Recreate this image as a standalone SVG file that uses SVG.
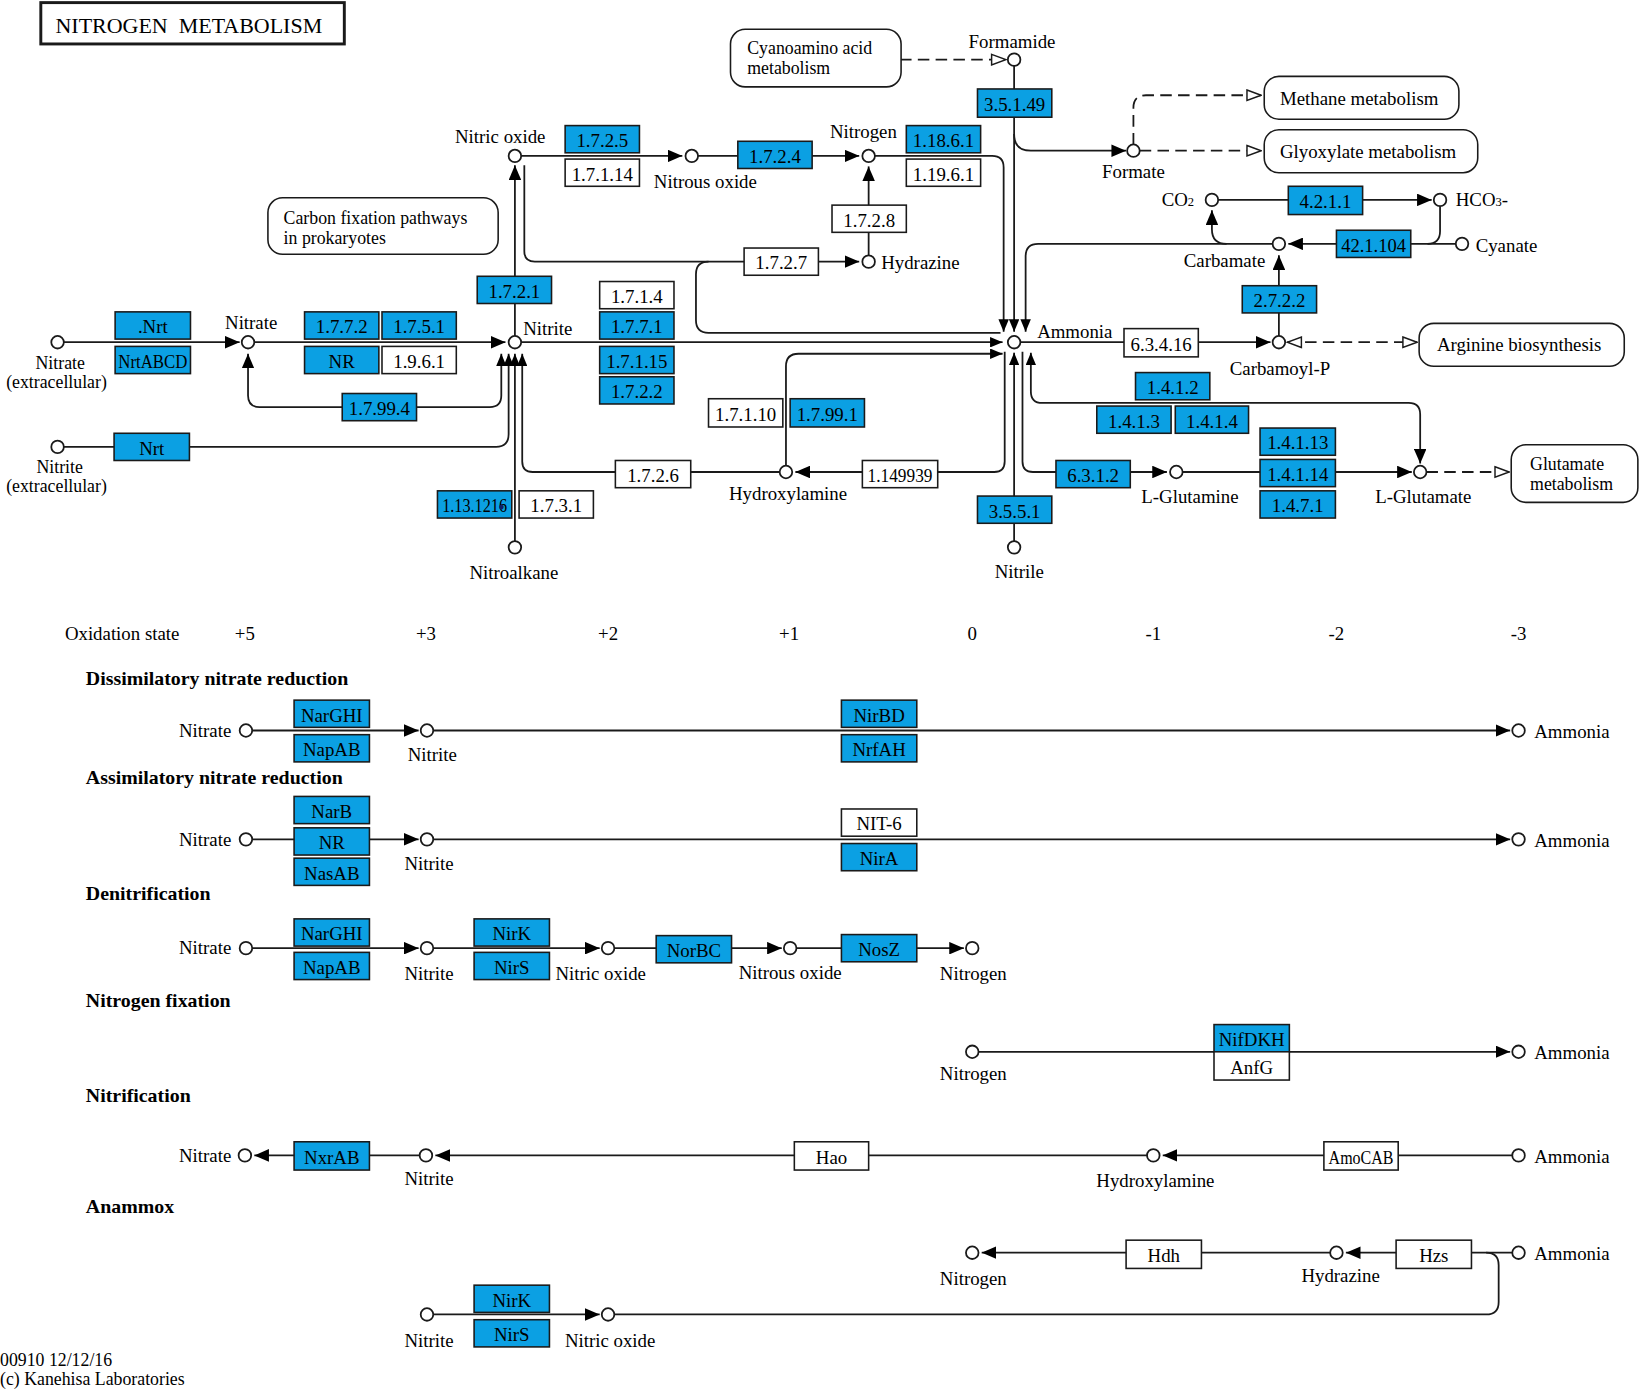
<svg xmlns="http://www.w3.org/2000/svg" width="1641" height="1391" viewBox="0 0 1641 1391">
<defs>
<style>
.ln{fill:none;stroke:#1a1a1a;stroke-width:1.7}
.ds{fill:none;stroke:#1a1a1a;stroke-width:1.7;stroke-dasharray:11 6}
.c{fill:#fff;stroke:#1a1a1a;stroke-width:1.7}
.b{fill:#0ba0e3;stroke:#1a1a1a;stroke-width:1.5}
.w{fill:#fff;stroke:#1a1a1a;stroke-width:1.5}
.m{fill:#fff;stroke:#1a1a1a;stroke-width:1.5}
text{font-family:"Liberation Serif","Times New Roman",serif;font-size:18px;fill:#000}
.t{text-anchor:middle}
.e{text-anchor:end}
.h{font-weight:bold;font-size:19px}
.two{font-size:17px}
</style>
<marker id="a" markerUnits="userSpaceOnUse" markerWidth="14" markerHeight="12" viewBox="0 0 14 12" refX="14" refY="6" orient="auto-start-reverse"><path d="M0,0L14,6L0,12z" fill="#000" stroke="none"/></marker>
<marker id="s" markerUnits="userSpaceOnUse" markerWidth="12" markerHeight="10" viewBox="0 0 12 10" refX="12" refY="5" orient="auto-start-reverse"><path d="M0,0L12,5L0,10z" fill="#000" stroke="none"/></marker>
<marker id="o" markerUnits="userSpaceOnUse" markerWidth="16" markerHeight="13" viewBox="0 0 16 13" refX="15" refY="6.5" orient="auto-start-reverse"><path d="M1.5,1.5L15,6.5L1.5,11.5z" fill="#fff" stroke="#1a1a1a" stroke-width="1.4" stroke-dasharray="none"/></marker>
</defs>
<rect x="0" y="0" width="1641" height="1391" fill="#fff"/>
<g transform="scale(1.046556)">
<g id="title"><rect x="39" y="2.5" width="290" height="39.5" fill="#fff" stroke="#1a1a1a" stroke-width="2.8"/><text x="53" y="32" style="font-size:21px;white-space:pre" xml:space="preserve">NITROGEN  METABOLISM</text></g>

<g id="connectors">
<path class="ln" d="M61,327H229" marker-end="url(#a)"/>
<path class="ln" d="M243,327H483" marker-end="url(#a)"/>
<path class="ln" d="M237,338V378Q237,389 248,389H468Q479,389 479,378V338" marker-start="url(#a)" marker-end="url(#s)"/>
<path class="ln" d="M61,427H474Q486,427 486,415V338" marker-end="url(#s)"/>
<path class="ln" d="M492,517V338" marker-end="url(#s)"/>
<path class="ln" d="M745,451H509Q499,451 499,441V338" marker-end="url(#s)"/>
<path class="ln" d="M492,321V158" marker-end="url(#a)"/>
<path class="ln" d="M498,149H652" marker-end="url(#a)"/>
<path class="ln" d="M667,149H821" marker-end="url(#a)"/>
<path class="ln" d="M836,149H948Q959,149 959,160V317" marker-end="url(#s)"/>
<path class="ln" d="M501,158V240Q501,250 511,250H821" marker-end="url(#a)"/>
<path class="ln" d="M956,318H677Q665,318 665,306V262Q665,250 677,250"/>
<path class="ln" d="M830,244V159" marker-end="url(#a)"/>
<path class="ln" d="M498,327H958" marker-end="url(#s)"/>
<path class="ln" d="M751,445V350Q751,338 763,338H958" marker-end="url(#s)"/>
<path class="ln" d="M960,336V441Q960,451 950,451H760" marker-end="url(#a)"/>
<path class="ln" d="M969,63V317" marker-end="url(#s)"/>
<path class="ln" d="M969,128Q969,144 985,144H1076" marker-end="url(#a)"/>
<path class="ds" d="M860,57H961" marker-end="url(#o)"/>
<path class="ds" d="M1089,144H1205" marker-end="url(#o)"/>
<path class="ds" d="M1083,138V103Q1083,91 1095,91H1205" marker-end="url(#o)"/>
<path class="ln" d="M1216,233H992Q980,233 980,245V317" marker-end="url(#s)"/>
<path class="ln" d="M1172,233Q1158,233 1158,219V201" marker-end="url(#a)"/>
<path class="ln" d="M1164,191H1368" marker-end="url(#a)"/>
<path class="ln" d="M1376,197V221Q1376,233 1364,233"/>
<path class="ln" d="M1391,233H1231" marker-end="url(#a)"/>
<path class="ln" d="M1222,321V244" marker-end="url(#a)"/>
<path class="ln" d="M975,327H1214" marker-end="url(#a)"/>
<path class="ds" d="M1230,327H1354" marker-start="url(#o)" marker-end="url(#o)"/>
<path class="ln" d="M969,517V337" marker-end="url(#s)"/>
<path class="ln" d="M985,337V374Q985,385 996,385H1346Q1357,385 1357,396V443" marker-start="url(#s)" marker-end="url(#a)"/>
<path class="ln" d="M977,336V441Q977,451 987,451H1115" marker-end="url(#a)"/>
<path class="ln" d="M1130,451H1349" marker-end="url(#a)"/>
<path class="ds" d="M1363,451H1442" marker-end="url(#o)"/>

<path class="ln" d="M241,698H400" marker-end="url(#a)"/>
<path class="ln" d="M414,698H1443" marker-end="url(#a)"/>
<path class="ln" d="M241,802H400" marker-end="url(#a)"/>
<path class="ln" d="M414,802H1443" marker-end="url(#a)"/>
<path class="ln" d="M241,906H400" marker-end="url(#a)"/>
<path class="ln" d="M414,906H573" marker-end="url(#a)"/>
<path class="ln" d="M587,906H747" marker-end="url(#a)"/>
<path class="ln" d="M761,906H921" marker-end="url(#a)"/>
<path class="ln" d="M935,1005H1443" marker-end="url(#a)"/>
<path class="ln" d="M1445,1104H1111" marker-end="url(#a)"/>
<path class="ln" d="M1096,1104H416" marker-end="url(#a)"/>
<path class="ln" d="M401,1104H243" marker-end="url(#a)"/>
<path class="ln" d="M1445,1197H1286" marker-end="url(#a)"/>
<path class="ln" d="M1271,1197H938" marker-end="url(#a)"/>
<path class="ln" d="M414,1256H573" marker-end="url(#a)"/>
<path class="ln" d="M587,1256H1420Q1432,1256 1432,1244V1209Q1432,1197 1420,1197"/>
</g>

<g id="maps">
<g id="map_cyano"><rect class="m" x="698" y="28" width="163" height="55" rx="14"/><text class="two" x="714" y="52">Cyanoamino acid</text><text class="two" x="714" y="71">metabolism</text></g>
<g id="map_carbon"><rect class="m" x="256" y="189" width="220" height="54" rx="14"/><text class="two" x="271" y="214">Carbon fixation pathways</text><text class="two" x="271" y="233">in prokaryotes</text></g>
<g id="map_methane"><rect class="m" x="1208" y="73" width="186" height="41" rx="14"/><text x="1223" y="100">Methane metabolism</text></g>
<g id="map_glyox"><rect class="m" x="1208" y="124" width="204" height="41" rx="14"/><text x="1223" y="151">Glyoxylate metabolism</text></g>
<g id="map_arg"><rect class="m" x="1356" y="309" width="196" height="41" rx="14"/><text x="1373" y="335">Arginine biosynthesis</text></g>
<g id="map_glu"><rect class="m" x="1444" y="425" width="121" height="55" rx="14"/><text class="two" x="1462" y="449">Glutamate</text><text class="two" x="1462" y="468">metabolism</text></g>
</g>

<g id="enzymes">
<g id="e1"><rect class="b" x="110" y="298" width="72" height="26"/><text class="t" x="146" y="318.5">.Nrt</text></g>
<g id="e2"><rect class="b" x="110" y="331" width="72" height="26"/><text class="t" x="146" y="351.5" textLength="66" lengthAdjust="spacingAndGlyphs">NrtABCD</text></g>
<g id="e3"><rect class="b" x="291" y="298" width="71" height="26"/><text class="t" x="326.5" y="318.5">1.7.7.2</text></g>
<g id="e4"><rect class="b" x="365" y="298" width="71" height="26"/><text class="t" x="400.5" y="318.5">1.7.5.1</text></g>
<g id="e5"><rect class="b" x="291" y="331" width="71" height="26"/><text class="t" x="326.5" y="351.5">NR</text></g>
<g id="e6"><rect class="w" x="365" y="331" width="71" height="26"/><text class="t" x="400.5" y="351.5">1.9.6.1</text></g>
<g id="e7"><rect class="b" x="327" y="376" width="71" height="26"/><text class="t" x="362.5" y="396.5">1.7.99.4</text></g>
<g id="e8"><rect class="b" x="109" y="414" width="72" height="26"/><text class="t" x="145" y="434.5">Nrt</text></g>
<g id="e9"><rect class="b" x="456" y="264" width="71" height="26"/><text class="t" x="491.5" y="284.5">1.7.2.1</text></g>
<g id="e10"><rect class="b" x="418" y="469" width="71" height="26"/><text class="t" x="453.5" y="489.5" textLength="62" lengthAdjust="spacingAndGlyphs">1.13.1216</text><circle cx="479" cy="484.5" r="2.3" fill="#10206a"/></g>
<g id="e11"><rect class="w" x="496" y="469" width="71" height="26"/><text class="t" x="531.5" y="489.5">1.7.3.1</text></g>
<g id="e12"><rect class="w" x="573" y="269" width="71" height="26"/><text class="t" x="608.5" y="289.5">1.7.1.4</text></g>
<g id="e13"><rect class="b" x="573" y="298" width="71" height="26"/><text class="t" x="608.5" y="318.5">1.7.7.1</text></g>
<g id="e14"><rect class="b" x="573" y="331" width="71" height="26"/><text class="t" x="608.5" y="351.5">1.7.1.15</text></g>
<g id="e15"><rect class="b" x="573" y="360" width="71" height="26"/><text class="t" x="608.5" y="380.5">1.7.2.2</text></g>
<g id="e16"><rect class="b" x="540" y="120" width="71" height="26"/><text class="t" x="575.5" y="140.5">1.7.2.5</text></g>
<g id="e17"><rect class="w" x="540" y="152" width="71" height="26"/><text class="t" x="575.5" y="172.5">1.7.1.14</text></g>
<g id="e18"><rect class="b" x="705" y="135" width="71" height="26"/><text class="t" x="740.5" y="155.5">1.7.2.4</text></g>
<g id="e19"><rect class="b" x="866" y="120" width="71" height="26"/><text class="t" x="901.5" y="140.5">1.18.6.1</text></g>
<g id="e20"><rect class="w" x="866" y="152" width="71" height="26"/><text class="t" x="901.5" y="172.5">1.19.6.1</text></g>
<g id="e21"><rect class="w" x="795" y="196" width="71" height="26"/><text class="t" x="830.5" y="216.5">1.7.2.8</text></g>
<g id="e22"><rect class="w" x="711" y="237" width="71" height="26"/><text class="t" x="746.5" y="257.5">1.7.2.7</text></g>
<g id="e23"><rect class="w" x="677" y="381" width="71" height="27"/><text class="t" x="712.5" y="402">1.7.1.10</text></g>
<g id="e24"><rect class="b" x="755" y="381" width="71" height="27"/><text class="t" x="790.5" y="402">1.7.99.1</text></g>
<g id="e25"><rect class="w" x="588" y="440" width="72" height="26"/><text class="t" x="624" y="460.5">1.7.2.6</text></g>
<g id="e26"><rect class="w" x="824" y="440" width="72" height="26"/><text class="t" x="860" y="460.5" textLength="62" lengthAdjust="spacingAndGlyphs">1.149939</text></g>
<g id="e27"><rect class="b" x="934" y="85" width="71" height="27"/><text class="t" x="969.5" y="106">3.5.1.49</text></g>
<g id="e28"><rect class="b" x="934" y="474" width="71" height="26"/><text class="t" x="969.5" y="494.5">3.5.5.1</text></g>
<g id="e29"><rect class="w" x="1074" y="314" width="71" height="27"/><text class="t" x="1109.5" y="335">6.3.4.16</text></g>
<g id="e30"><rect class="b" x="1187" y="273" width="71" height="26"/><text class="t" x="1222.5" y="293.5">2.7.2.2</text></g>
<g id="e31"><rect class="b" x="1277" y="220" width="71" height="26"/><text class="t" x="1312.5" y="240.5" textLength="62" lengthAdjust="spacingAndGlyphs">42.1.104</text></g>
<g id="e32"><rect class="b" x="1231" y="178" width="71" height="27"/><text class="t" x="1266.5" y="199">4.2.1.1</text></g>
<g id="e33"><rect class="b" x="1085" y="356" width="71" height="26"/><text class="t" x="1120.5" y="376.5">1.4.1.2</text></g>
<g id="e34"><rect class="b" x="1048" y="388" width="71" height="26"/><text class="t" x="1083.5" y="408.5">1.4.1.3</text></g>
<g id="e35"><rect class="b" x="1123" y="388" width="70" height="26"/><text class="t" x="1158" y="408.5">1.4.1.4</text></g>
<g id="e36"><rect class="b" x="1009" y="440" width="71" height="26"/><text class="t" x="1044.5" y="460.5">6.3.1.2</text></g>
<g id="e37"><rect class="b" x="1204" y="409" width="72" height="26"/><text class="t" x="1240" y="429.5">1.4.1.13</text></g>
<g id="e38"><rect class="b" x="1204" y="439" width="72" height="26"/><text class="t" x="1240" y="459.5">1.4.1.14</text></g>
<g id="e39"><rect class="b" x="1204" y="469" width="72" height="26"/><text class="t" x="1240" y="489.5">1.4.7.1</text></g>

<g id="e40"><rect class="b" x="281" y="669" width="72" height="26"/><text class="t" x="317" y="689.5">NarGHI</text></g>
<g id="e41"><rect class="b" x="281" y="702" width="72" height="26"/><text class="t" x="317" y="722.5">NapAB</text></g>
<g id="e42"><rect class="b" x="804" y="669" width="72" height="26"/><text class="t" x="840" y="689.5">NirBD</text></g>
<g id="e43"><rect class="b" x="804" y="702" width="72" height="26"/><text class="t" x="840" y="722.5">NrfAH</text></g>
<g id="e44"><rect class="b" x="281" y="761" width="72" height="26"/><text class="t" x="317" y="781.5">NarB</text></g>
<g id="e45"><rect class="b" x="281" y="791" width="72" height="26"/><text class="t" x="317" y="811.5">NR</text></g>
<g id="e46"><rect class="b" x="281" y="820" width="72" height="26"/><text class="t" x="317" y="840.5">NasAB</text></g>
<g id="e47"><rect class="w" x="804" y="773" width="72" height="26"/><text class="t" x="840" y="793.5">NIT-6</text></g>
<g id="e48"><rect class="b" x="804" y="806" width="72" height="26"/><text class="t" x="840" y="826.5">NirA</text></g>
<g id="e49"><rect class="b" x="281" y="878" width="72" height="26"/><text class="t" x="317" y="898.5">NarGHI</text></g>
<g id="e50"><rect class="b" x="281" y="910" width="72" height="26"/><text class="t" x="317" y="930.5">NapAB</text></g>
<g id="e51"><rect class="b" x="453" y="878" width="72" height="26"/><text class="t" x="489" y="898.5">NirK</text></g>
<g id="e52"><rect class="b" x="453" y="910" width="72" height="26"/><text class="t" x="489" y="930.5">NirS</text></g>
<g id="e53"><rect class="b" x="627" y="894" width="72" height="26"/><text class="t" x="663" y="914.5">NorBC</text></g>
<g id="e54"><rect class="b" x="804" y="893" width="72" height="26"/><text class="t" x="840" y="913.5">NosZ</text></g>
<g id="e55"><rect class="b" x="1160" y="979" width="72" height="26"/><text class="t" x="1196" y="999.5">NifDKH</text></g>
<g id="e56"><rect class="w" x="1160" y="1005" width="72" height="27"/><text class="t" x="1196" y="1026">AnfG</text></g>
<g id="e57"><rect class="b" x="281" y="1091" width="72" height="27"/><text class="t" x="317" y="1112">NxrAB</text></g>
<g id="e58"><rect class="w" x="759" y="1091" width="71" height="27"/><text class="t" x="794.5" y="1112">Hao</text></g>
<g id="e59"><rect class="w" x="1265" y="1091" width="71" height="27"/><text class="t" x="1300.5" y="1112" textLength="62" lengthAdjust="spacingAndGlyphs">AmoCAB</text></g>
<g id="e60"><rect class="w" x="1076" y="1185" width="72" height="27"/><text class="t" x="1112" y="1206">Hdh</text></g>
<g id="e61"><rect class="w" x="1334" y="1185" width="72" height="27"/><text class="t" x="1370" y="1206">Hzs</text></g>
<g id="e62"><rect class="b" x="453" y="1228" width="72" height="26"/><text class="t" x="489" y="1248.5">NirK</text></g>
<g id="e63"><rect class="b" x="453" y="1261" width="72" height="26"/><text class="t" x="489" y="1281.5">NirS</text></g>
</g>

<g id="compounds">
<g id="c_nitrate_ext"><circle class="c" cx="55" cy="327" r="6"/><text class="t two" x="57.5" y="353">Nitrate</text><text class="t two" x="54" y="371">(extracellular)</text></g>
<g id="c_nitrite_ext"><circle class="c" cx="55" cy="427" r="6"/><text class="t two" x="57" y="452">Nitrite</text><text class="t two" x="54" y="470">(extracellular)</text></g>
<g id="c_nitrate"><circle class="c" cx="237" cy="327" r="6"/><text class="t" x="240" y="314">Nitrate</text></g>
<g id="c_nitrite"><circle class="c" cx="492" cy="327" r="6"/><text x="500" y="320">Nitrite</text></g>
<g id="c_nitroalkane"><circle class="c" cx="492" cy="523" r="6"/><text class="t" x="491" y="553">Nitroalkane</text></g>
<g id="c_no"><circle class="c" cx="492" cy="149" r="6"/><text class="t" x="478" y="137">Nitric oxide</text></g>
<g id="c_n2o"><circle class="c" cx="661" cy="149" r="6"/><text class="t" x="674" y="180">Nitrous oxide</text></g>
<g id="c_n2"><circle class="c" cx="830" cy="149" r="6"/><text class="t" x="825" y="132">Nitrogen</text></g>
<g id="c_hydrazine"><circle class="c" cx="830" cy="250" r="6"/><text x="842" y="257">Hydrazine</text></g>
<g id="c_nh2oh"><circle class="c" cx="751" cy="451" r="6"/><text class="t" x="753" y="478">Hydroxylamine</text></g>
<g id="c_nh3"><circle class="c" cx="969" cy="327" r="6"/><text x="991" y="323">Ammonia</text></g>
<g id="c_nitrile"><circle class="c" cx="969" cy="523" r="6"/><text class="t" x="974" y="552">Nitrile</text></g>
<g id="c_formamide"><circle class="c" cx="969" cy="57" r="6"/><text class="t" x="967" y="46">Formamide</text></g>
<g id="c_formate"><circle class="c" cx="1083" cy="144" r="6"/><text class="t" x="1083" y="170">Formate</text></g>
<g id="c_co2"><circle class="c" cx="1158" cy="191" r="6"/><text x="1110" y="197">CO<tspan style="font-size:12px">2</tspan></text></g>
<g id="c_hco3"><circle class="c" cx="1376" cy="191" r="6"/><text x="1391" y="197">HCO<tspan style="font-size:12px">3</tspan>-</text></g>
<g id="c_carbamate"><circle class="c" cx="1222" cy="233" r="6"/><text class="e" x="1209" y="255">Carbamate</text></g>
<g id="c_cyanate"><circle class="c" cx="1397" cy="233" r="6"/><text x="1410" y="241">Cyanate</text></g>
<g id="c_carbp"><circle class="c" cx="1222" cy="327" r="6"/><text class="t" x="1223" y="358">Carbamoyl-P</text></g>
<g id="c_gln"><circle class="c" cx="1124" cy="451" r="6"/><text class="t" x="1137" y="481">L-Glutamine</text></g>
<g id="c_glu"><circle class="c" cx="1357" cy="451" r="6"/><text class="t" x="1360" y="481">L-Glutamate</text></g>

<g id="r1_nitrate"><circle class="c" cx="235" cy="698" r="6"/><text class="e" x="221" y="704">Nitrate</text></g>
<g id="r1_nitrite"><circle class="c" cx="408" cy="698" r="6"/><text class="t" x="413" y="727">Nitrite</text></g>
<g id="r1_nh3"><circle class="c" cx="1451" cy="698" r="6"/><text x="1466" y="705">Ammonia</text></g>
<g id="r2_nitrate"><circle class="c" cx="235" cy="802" r="6"/><text class="e" x="221" y="808">Nitrate</text></g>
<g id="r2_nitrite"><circle class="c" cx="408" cy="802" r="6"/><text class="t" x="410" y="831">Nitrite</text></g>
<g id="r2_nh3"><circle class="c" cx="1451" cy="802" r="6"/><text x="1466" y="809">Ammonia</text></g>
<g id="r3_nitrate"><circle class="c" cx="235" cy="906" r="6"/><text class="e" x="221" y="912">Nitrate</text></g>
<g id="r3_nitrite"><circle class="c" cx="408" cy="906" r="6"/><text class="t" x="410" y="936">Nitrite</text></g>
<g id="r3_no"><circle class="c" cx="581" cy="906" r="6"/><text class="t" x="574" y="936">Nitric oxide</text></g>
<g id="r3_n2o"><circle class="c" cx="755" cy="906" r="6"/><text class="t" x="755" y="935">Nitrous oxide</text></g>
<g id="r3_n2"><circle class="c" cx="929" cy="906" r="6"/><text class="t" x="930" y="936">Nitrogen</text></g>
<g id="r4_n2"><circle class="c" cx="929" cy="1005" r="6"/><text class="t" x="930" y="1032">Nitrogen</text></g>
<g id="r4_nh3"><circle class="c" cx="1451" cy="1005" r="6"/><text x="1466" y="1012">Ammonia</text></g>
<g id="r5_nitrate"><circle class="c" cx="234" cy="1104" r="6"/><text class="e" x="221" y="1110">Nitrate</text></g>
<g id="r5_nitrite"><circle class="c" cx="407" cy="1104" r="6"/><text class="t" x="410" y="1132">Nitrite</text></g>
<g id="r5_nh2oh"><circle class="c" cx="1102" cy="1104" r="6"/><text class="t" x="1104" y="1134">Hydroxylamine</text></g>
<g id="r5_nh3"><circle class="c" cx="1451" cy="1104" r="6"/><text x="1466" y="1111">Ammonia</text></g>
<g id="r6_n2"><circle class="c" cx="929" cy="1197" r="6"/><text class="t" x="930" y="1228">Nitrogen</text></g>
<g id="r6_hydrazine"><circle class="c" cx="1277" cy="1197" r="6"/><text class="t" x="1281" y="1225">Hydrazine</text></g>
<g id="r6_nh3"><circle class="c" cx="1451" cy="1197" r="6"/><text x="1466" y="1204">Ammonia</text></g>
<g id="r7_nitrite"><circle class="c" cx="408" cy="1256" r="6"/><text class="t" x="410" y="1287">Nitrite</text></g>
<g id="r7_no"><circle class="c" cx="581" cy="1256" r="6"/><text class="t" x="583" y="1287">Nitric oxide</text></g>
</g>

<g id="labels">
<text x="62" y="612">Oxidation state</text>
<text class="t" x="234" y="612">+5</text>
<text class="t" x="407" y="612">+3</text>
<text class="t" x="581" y="612">+2</text>
<text class="t" x="754" y="612">+1</text>
<text class="t" x="929" y="612">0</text>
<text class="t" x="1102" y="612">-1</text>
<text class="t" x="1277" y="612">-2</text>
<text class="t" x="1451" y="612">-3</text>
<text class="h" x="82" y="655">Dissimilatory nitrate reduction</text>
<text class="h" x="82" y="749">Assimilatory nitrate reduction</text>
<text class="h" x="82" y="860">Denitrification</text>
<text class="h" x="82" y="962">Nitrogen fixation</text>
<text class="h" x="82" y="1053">Nitrification</text>
<text class="h" x="82" y="1159">Anammox</text>
<text class="two" x="0" y="1305">00910 12/12/16</text>
<text class="two" x="0" y="1323">(c) Kanehisa Laboratories</text>
</g>
</g>
</svg>
